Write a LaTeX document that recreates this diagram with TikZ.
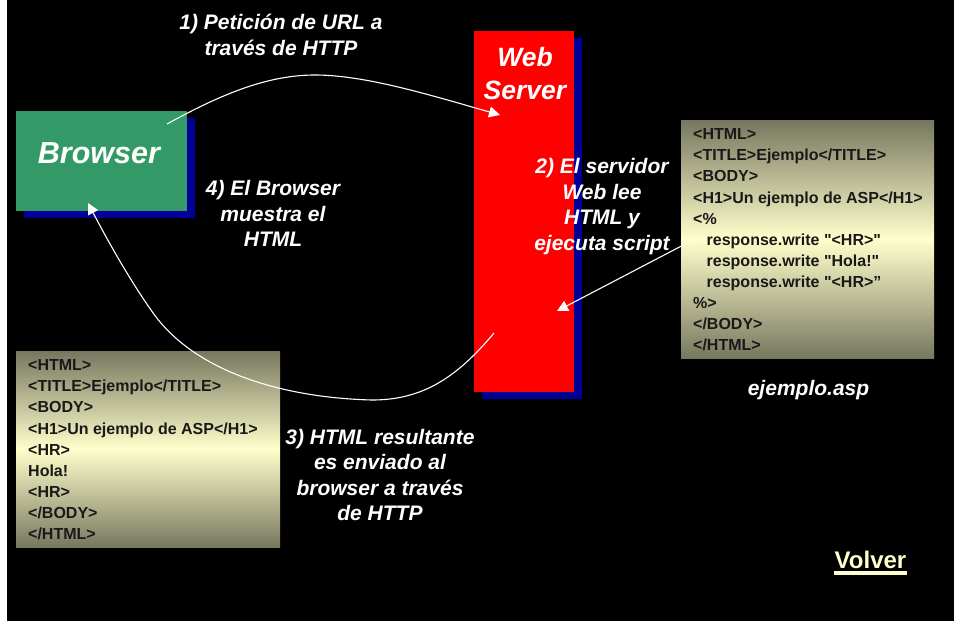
\documentclass[tikz,border=0pt]{standalone}
\usepackage{fontspec}
\setmainfont{Liberation Sans}
\newfontfamily\rawfont{Liberation Sans}
\usetikzlibrary{arrows.meta}
\definecolor{cream}{HTML}{FFFFCC}
\definecolor{codedark}{HTML}{77775F}
\definecolor{browsergreen}{HTML}{339966}
\definecolor{shadowblue}{HTML}{000099}
\newcommand{\lblfont}{\fontsize{21}{25.5}\selectfont\bfseries\itshape}
\newcommand{\codefont}{\rawfont\fontsize{16}{21.1}\selectfont\bfseries}
\newcommand{\thickul}[1]{\setbox0\hbox{#1}\vtop{\hbox{\kern1pt\copy0\kern1pt}\kern3pt\hrule width \dimexpr\wd0+2pt\relax height 3.6pt}}
\tikzset{
  x=1pt,y=-1pt,
  lbl/.style={text=white,font=\lblfont,align=center,inner sep=0pt},
  codebox/.style={anchor=north west,inner sep=0pt,top color=codedark,bottom color=codedark,middle color=cream,shading angle=0},
  codetext/.style={anchor=north west,inner sep=0pt,align=left,text=black!90,font=\codefont},
  wire/.style={white,line width=1.1pt,-{Triangle[length=11pt,width=11pt]}},
}
\begin{document}
\begin{tikzpicture}
\useasboundingbox (0,0) rectangle (954,621);
\fill[white] (0,0) rectangle (954,621);
\fill[black] (7,0) rectangle (954,621);
% shadows
\fill[shadowblue] (24,118) rectangle (195,218);
\fill[shadowblue] (482,38) rectangle (582,399);
% boxes
\node[anchor=north west,inner sep=0pt,minimum width=171pt,minimum height=100pt,fill=browsergreen] (browser) at (16,111) {};
\node[anchor=north west,inner sep=0pt,minimum width=100pt,minimum height=361pt,fill=red] (server) at (474,31) {};
\node[codebox,minimum width=253pt,minimum height=238pt] (aspbox) at (681,120) {};
\node[codebox,minimum width=264pt,minimum height=196pt] (htmlbox) at (16,351) {};
% box texts
\node[text=white,inner sep=0pt,font=\fontsize{30.5}{34}\selectfont\bfseries\itshape] (browserlbl) at (99,153) {Browser};
\node[text=white,inner sep=0pt,align=center,font=\fontsize{26.5}{32.5}\selectfont\bfseries\itshape] (serverlbl) at (525,73.5) {Web\\Server};
\node[codetext] (asptext) at (693,128.5) {<HTML>\\
<TITLE>Ejemplo</TITLE>\\
<BODY>\\
<H1>Un ejemplo de ASP</H1>\\
<\%\\
\hspace*{13.5pt}response.write "<HR>"\\
\hspace*{13.5pt}response.write "Hola!"\\
\hspace*{13.5pt}response.write "<HR>”\\
\%>\\
</BODY>\\
</HTML>};
\node[codetext] (htmltext) at (28,359.5) {<HTML>\\
<TITLE>Ejemplo</TITLE>\\
<BODY>\\
<H1>Un ejemplo de ASP</H1>\\
<HR>\\
Hola!\\
<HR>\\
</BODY>\\
</HTML>};
% connector ends
\coordinate (a1) at (167,124);
\coordinate (a1p) at (315,75);
\coordinate (b1) at (500,115);
\coordinate (a2) at (691,241);
\coordinate (b2) at (557,311);
\coordinate (a3) at (494,333);
\coordinate (a3p) at (372,400);
\coordinate (a3q) at (151,310);
\coordinate (b3) at (88,203);
% connectors
\draw[wire] (a1) .. controls (225,92) and (270,75) .. (a1p) .. controls (365,75) and (430,95) .. (b1);
\draw[wire] (a2) -- (b2);
\draw[wire] (a3) .. controls (455,380) and (420,400) .. (a3p) .. controls (290,398) and (195,375) .. (a3q) .. controls (130,280) and (110,245) .. (b3);
% labels
\node[lbl] (l1) at (281,35) {1) Petición de URL a\\través de HTTP};
\node[lbl] (l4) at (273,213.5) {4) El Browser\\muestra el\\HTML};
\node[lbl] (l2) at (602,206.5) {2) El servidor\\Web lee\\HTML y\\ejecuta script};
\node[lbl] (l3) at (380,475) {3) HTML resultante\\es enviado al\\browser a través\\de HTTP};
\node[lbl] (l5) at (808.5,390) {ejemplo.asp};
\node[anchor=base,inner sep=0pt,text=cream,font=\fontsize{24}{26}\selectfont\bfseries] (volver) at (870.5,568) {\thickul{Volver}};
\end{tikzpicture}
\end{document}
